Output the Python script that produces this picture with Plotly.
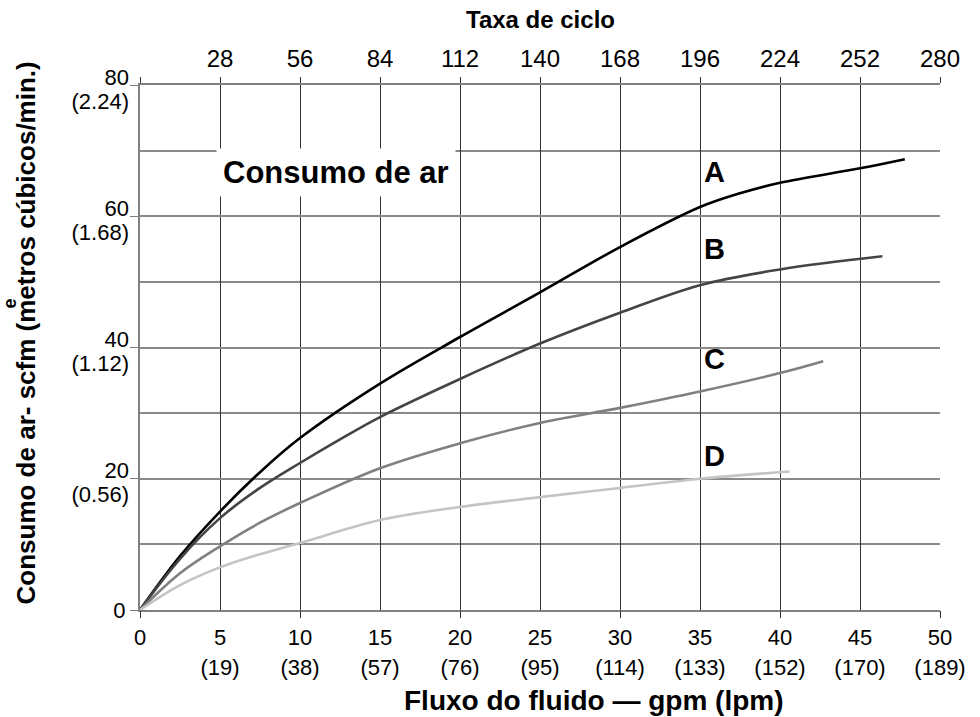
import plotly.graph_objects as go

# fluxo do fluido (gpm) e consumo de ar (scfm)
flow_a = [0, 2.5, 5, 7.5, 10, 15, 20, 25, 30, 35, 37.5, 40, 45, 47.8]
air_a = [0, 8.2, 15.0, 21.0, 26.2, 34.5, 41.6, 48.4, 55.3, 61.4, 63.5, 65.1, 67.3, 68.7]

flow_b = [0, 2.5, 5, 7.5, 10, 12.5, 15, 20, 25, 30, 35, 40, 46.4]
air_b = [0, 7.8, 14.0, 18.6, 22.4, 26.0, 29.4, 35.2, 40.6, 45.3, 49.5, 51.9, 53.9]

flow_c = [0, 2.5, 5, 7.5, 10, 15, 20, 25, 30, 35, 40, 42.7]
air_c = [0, 5.6, 9.7, 13.3, 16.3, 21.6, 25.4, 28.5, 30.8, 33.3, 36.1, 37.9]

flow_d = [0, 2.5, 5, 7.5, 10, 15, 20, 25, 30, 35, 40.6]
air_d = [0, 3.8, 6.5, 8.5, 10.2, 13.7, 15.7, 17.2, 18.6, 20.0, 21.1]

curve_names = ["A", "B", "C", "D"]
curve_colors = ["#000000", "#444444", "#808080", "#c4c4c4"]

x_ticks = [0, 5, 10, 15, 20, 25, 30, 35, 40, 45, 50]
x_labels = ["0", "5", "10", "15", "20", "25", "30", "35", "40", "45", "50"]
x_labels_lpm = ["", "(19)", "(38)", "(57)", "(76)", "(95)", "(114)", "(133)", "(152)", "(170)", "(189)"]
y_ticks = [0, 20, 40, 60, 80]
y_labels = ["", "20", "40", "60", "80"]
y_labels_m3 = ["", "(0.56)", "(1.12)", "(1.68)", "(2.24)"]
cycle_ticks = [28, 56, 84, 112, 140, 168, 196, 224, 252, 280]

FONT = "Liberation Sans, Arial, sans-serif"

fig = go.Figure()

series = [(flow_a, air_a), (flow_b, air_b), (flow_c, air_c), (flow_d, air_d)]
for (xs, ys), name, color in zip(series, curve_names, curve_colors):
    fig.add_trace(go.Scatter(x=xs, y=ys, mode="lines", name=name,
                             line=dict(color=color, width=2.6, shape="spline", smoothing=1.0)))

# eixos auxiliares: taxa de ciclo (topo), marcas a cada 10 gpm, rótulos em lpm e m3/min
for ax, rng in [("x2", [0, 280]), ("x3", [0, 50]), ("x4", [0, 50])]:
    fig.add_trace(go.Scatter(x=rng, y=[0, 0], xaxis=ax, mode="markers",
                             marker=dict(opacity=0), hoverinfo="skip", showlegend=False))
for ax in ["y2", "y3"]:
    fig.add_trace(go.Scatter(x=[0, 0], y=[0, 80], yaxis=ax, mode="markers",
                             marker=dict(opacity=0), hoverinfo="skip", showlegend=False))

# rótulos das curvas
label_y = [66.7, 55.0, 38.2, 23.5]
for name, ly in zip(curve_names, label_y):
    fig.add_annotation(x=35.9, y=ly, text="<b>%s</b>" % name, showarrow=False,
                       font=dict(family=FONT, size=29, color="black"))

fig.add_annotation(x=4.75, y=66.7, xanchor="left", text="<b>Consumo de ar</b>", showarrow=False,
                   font=dict(family=FONT, size=31, color="black"), bgcolor="white",
                   borderpad=6)

fig.add_annotation(xref="paper", yref="paper", x=0.5, y=1.0, yanchor="middle", yshift=66,
                   text="<b>Taxa de ciclo</b>",
                   showarrow=False, font=dict(family=FONT, size=24, color="black"))
fig.add_annotation(xref="paper", yref="paper", x=0.5675, y=0, yanchor="middle", yshift=-90,
                   text="<b>Fluxo do fluido — gpm (lpm)</b>",
                   showarrow=False, font=dict(family=FONT, size=28, color="black"))
fig.add_annotation(xref="paper", yref="paper", x=0, xanchor="center", xshift=-115,
                   y=0.5, yanchor="middle", yshift=14,
                   text="<b>Consumo de ar- scfm (metros cúbicos/min.)</b>", textangle=-90,
                   showarrow=False, font=dict(family=FONT, size=26, color="black"))
fig.add_annotation(xref="paper", yref="paper", x=0, xanchor="center", xshift=-131,
                   y=0.5, yanchor="middle", yshift=44,
                   text="<b>e</b>", textangle=-90,
                   showarrow=False, font=dict(family=FONT, size=18, color="black"))

# linhas de grade mais escuras
for gy in [10, 50]:
    fig.add_shape(type="line", xref="paper", x0=0, x1=1, y0=gy, y1=gy,
                  line=dict(color="black", width=1.2), layer="below")

tick_font = dict(family=FONT, size=22, color="black")

fig.update_layout(
    width=980, height=717,
    margin=dict(l=140, r=40, t=85, b=107),
    plot_bgcolor="white", paper_bgcolor="white",
    showlegend=False,
    xaxis=dict(range=[0, 50], tickvals=x_ticks, ticktext=x_labels, ticks="",
               showgrid=True, gridcolor="#333333", gridwidth=1, zeroline=False,
               showline=True, linecolor="#808080", linewidth=2,
               tickfont=tick_font, ticklabelstandoff=7),
    xaxis2=dict(range=[0, 280], overlaying="x", side="top", anchor="y",
                tickvals=[0] + cycle_ticks, ticktext=[""] + [str(v) for v in cycle_ticks],
                ticks="outside", ticklen=6, tickcolor="#333333", showgrid=False, zeroline=False,
                showline=True, linecolor="#808080", linewidth=2,
                tickfont=dict(family=FONT, size=24, color="black"), ticklabelstandoff=0),
    xaxis3=dict(range=[0, 50], overlaying="x", side="bottom", anchor="y",
                dtick=10, ticks="outside", ticklen=7, tickcolor="#333333",
                showticklabels=False, showgrid=False, zeroline=False),
    xaxis4=dict(range=[0, 50], overlaying="x", side="bottom", anchor="y",
                tickvals=x_ticks, ticktext=x_labels_lpm, ticks="",
                showgrid=False, zeroline=False, showline=False,
                tickfont=tick_font, ticklabelstandoff=42),
    yaxis=dict(range=[0, 80], tickvals=y_ticks, ticktext=["0"] + [""] * 4,
               ticks="outside", ticklen=8, tickcolor="#808080",
               showgrid=True, gridcolor="#8a8a8a", gridwidth=1.5, zeroline=False,
               minor=dict(dtick=10, showgrid=True, gridcolor="#8a8a8a", gridwidth=1.5),
               showline=True, linecolor="#808080", linewidth=2,
               tickfont=tick_font),
    # rótulos em duas linhas: scfm um pouco acima da marca, m3/min logo abaixo
    yaxis2=dict(range=[0, 80], overlaying="y", side="left", anchor="x",
                tickvals=y_ticks, ticktext=y_labels, ticks="", showgrid=False,
                zeroline=False, showline=False, tickfont=tick_font,
                ticklabelstandoff=10, ticklabelshift=-8),
    yaxis3=dict(range=[0, 80], overlaying="y", side="left", anchor="x",
                tickvals=y_ticks, ticktext=y_labels_m3, ticks="", showgrid=False,
                zeroline=False, showline=False, tickfont=tick_font,
                ticklabelstandoff=10, ticklabelshift=16),
)

# sem a margem padrão da página, para a figura ocupar a janela inteira
fig.write_html("out.html", config={"displayModeBar": False},
               post_script="document.body.style.margin='0';")
